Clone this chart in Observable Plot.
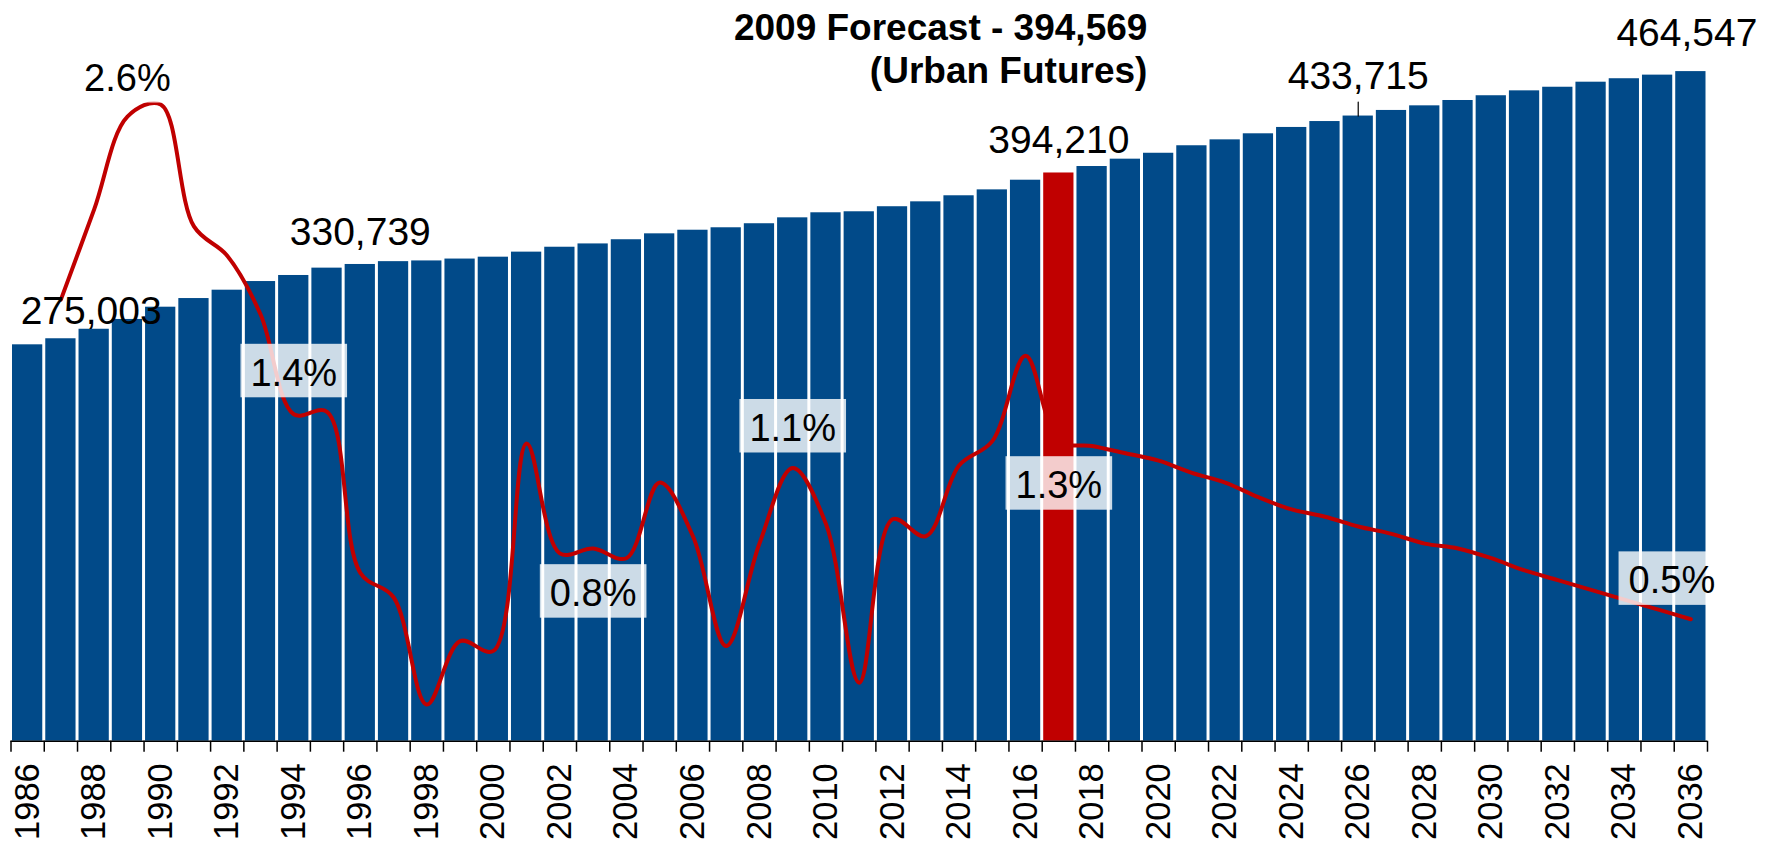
<!DOCTYPE html>
<html><head><meta charset="utf-8">
<script src="https://cdn.jsdelivr.net/npm/d3@7"></script>
<script src="https://cdn.jsdelivr.net/npm/@observablehq/plot@0.6"></script>
<style>body{margin:0;background:#fff} svg{display:block}</style>
</head><body><div id="chart"></div>
<script>
// ---- data ----
const years = d3.range(1986, 2037);
const population = [
  275003, 279200, 285800, 292600, 301100, 307100, 312900, 318900, 323100, 328200,
  330739, 332700, 333200, 334500, 335800, 339300, 342700, 345000, 347900, 352000,
  354500, 356200, 359000, 363100, 366600, 367300, 370800, 374200, 378400, 382500,
  389200, 394210, 398700, 403800, 407900, 413100, 417200, 421400, 425800, 429900,
  433715, 437600, 440800, 444500, 447800, 451200, 453700, 457200, 459600, 462100,
  464547
];
const growthYears = d3.range(1987, 2037);
const growthPct = [
  1.81, 2.18, 2.56, 2.61, 2.11, 1.99, 1.75, 1.34, 1.35, 0.69,
  0.59, 0.15, 0.41, 0.37, 1.22, 0.77, 0.79, 0.75, 1.06, 0.84,
  0.39, 0.81, 1.12, 0.89, 0.24, 0.91, 0.84, 1.13, 1.23, 1.58,
  1.23, 1.21, 1.18, 1.15, 1.10, 1.06, 1.00, 0.95, 0.92, 0.88,
  0.85, 0.81, 0.79, 0.75, 0.70, 0.66, 0.62, 0.58, 0.54, 0.50
];
const highlightYear = 2017;
const popLabelYears = [1986, 1996, 2017, 2026, 2036];
const pctLabelYears = [1989, 1994, 2003, 2009, 2017, 2036];
const pctLabelValues = [2.6, 1.4, 0.8, 1.1, 1.3, 0.5];
const forecastText = "2009 Forecast - 394,569\n(Urban Futures)";
const tickYears = years.filter(y => y % 2 === 0);

// ---- layout / style ----
const W = 1779, H = 842;
const mL = 10.5, mR = 72, mT = 20, mB = 101.3;
const yMax = 500000;
const pctMax = 2.954;               // right (percent) axis top, shares the baseline with population
const pctToPop = yMax / pctMax;
const blue = "#014A89", red = "#C00000";
const font = "'Liberation Sans', Arial, Helvetica, sans-serif";
const popLabelOffsets = [[-7, -21, "start"], [0, -19, "middle"], [0, -20, "middle"], [0, -27, "middle"], [-4, -26, "middle"]];
const pctLabelOffsets = [[0, -28], [0, -26], [0, 48], [0, -44], [0, 62], [-19, -38]];

const popData = years.map((year, i) => ({year, pop: population[i]}));
const growthData = growthYears.map((year, i) => ({year, pct: growthPct[i]}));
const fmt = d3.format(",");

const popLabelMarks = popLabelYears.map((yr, i) => {
  const d = popData.find(p => p.year === yr);
  const [dx, dy, anchor] = popLabelOffsets[i];
  return Plot.text([d], {x: "year", y: "pop", text: p => fmt(p.pop), dx, dy,
    textAnchor: anchor, lineAnchor: "bottom", fontSize: 39, fill: "#000"});
});
const pctLabelMarks = pctLabelYears.map((yr, i) => {
  const [dx, dy] = pctLabelOffsets[i];
  return Plot.text([{year: yr, pct: pctLabelValues[i]}], {x: "year", y: d => d.pct * pctToPop,
    text: d => d.pct.toFixed(1) + "%", dx, dy, lineAnchor: "middle", fontSize: 38, fill: "#000"});
});

const chart = Plot.plot({
  width: W, height: H,
  marginLeft: mL, marginRight: mR, marginTop: mT, marginBottom: mB,
  x: {domain: [years[0] - 0.5, years[years.length - 1] + 0.5]},
  y: {domain: [0, yMax], axis: null},
  style: {fontFamily: font, background: "#fff", overflow: "visible"},
  marks: [
    Plot.rectY(popData.filter(d => d.year !== highlightYear), {x1: d => d.year - 0.5, x2: d => d.year + 0.5, y: "pop", fill: blue, insetLeft: 1.5, insetRight: 1.5}),
    Plot.rectY(popData.filter(d => d.year === highlightYear), {x1: d => d.year - 0.5, x2: d => d.year + 0.5, y: "pop", fill: red, insetLeft: 1.5, insetRight: 1.5}),
    Plot.ruleY([0], {stroke: "#000", strokeWidth: 1.5}),
    Plot.axisX({ticks: [...years.map(y => y - 0.5), years[years.length - 1] + 0.5], tickSize: 11, tickFormat: () => "", label: null, stroke: "#000", strokeWidth: 1.5}),
    Plot.axisX({ticks: tickYears, tickSize: 0, tickPadding: 22, tickRotate: -90, tickFormat: d => String(d), label: null, fontSize: 34.5, fill: "#000"}),
    Plot.line(growthData, {x: "year", y: d => d.pct * pctToPop, curve: "catmull-rom", stroke: red, strokeWidth: 4, strokeLinejoin: "round", strokeLinecap: "round"}),
    ...pctLabelMarks,
    ...popLabelMarks,
    Plot.vector([popData.find(d => d.year === 2026)], {x: "year", y: "pop", length: 14, rotate: 0, anchor: "start", stroke: "#000", strokeWidth: 1.2,
      shape: {draw(context, l) { context.moveTo(0, 0); context.lineTo(0, -l); }}}),
    Plot.text([forecastText], {x: 2019, frameAnchor: "top", text: d => d, textAnchor: "end", lineAnchor: "top", dx: 22, dy: -12,
      fontSize: 37, fontWeight: "bold", lineHeight: 1.18, fill: "#000"})
  ]
});
document.getElementById("chart").appendChild(chart);

// semi-transparent boxes behind the percentage labels
const ns = "http://www.w3.org/2000/svg";
const svgRect = chart.getBoundingClientRect();
const frameRight = W - mR;
const pctTexts = [...chart.querySelectorAll("text")].filter(t => /%$/.test(t.textContent.trim()));
pctTexts.forEach(t => {
  const g = t.parentNode;
  const b = t.getBoundingClientRect();
  const x0 = b.left - svgRect.left - 10;
  const x1 = Math.min(b.right - svgRect.left + 10, frameRight);
  const y0 = b.top - svgRect.top - 8;
  const y1 = b.bottom - svgRect.top + 3.5;
  const r = document.createElementNS(ns, "rect");
  r.setAttribute("x", x0); r.setAttribute("y", y0);
  r.setAttribute("width", x1 - x0); r.setAttribute("height", y1 - y0);
  r.setAttribute("fill", "#fff"); r.setAttribute("fill-opacity", 0.8);
  const holder = document.createElementNS(ns, "g");
  holder.appendChild(r);
  g.parentNode.insertBefore(holder, g);
});
</script>
</body></html>
